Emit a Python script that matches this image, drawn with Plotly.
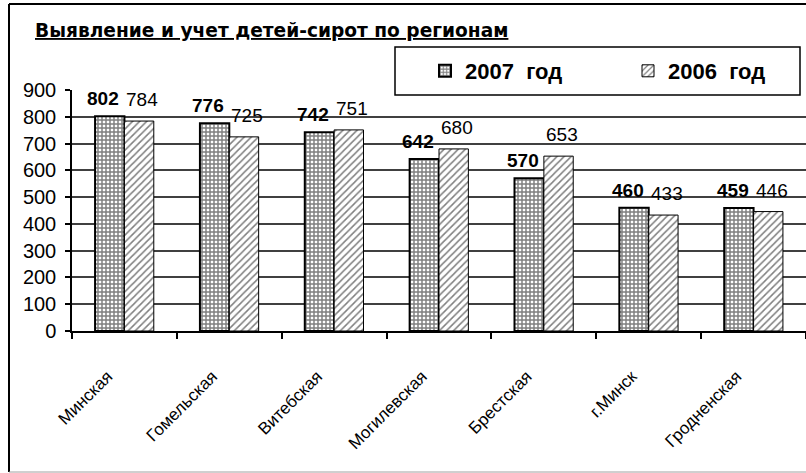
import plotly.graph_objects as go

regions = ["Минская", "Гомельская", "Витебская", "Могилевская", "Брестская", "г.Минск", "Гродненская"]
y2007 = [802, 776, 742, 642, 570, 460, 459]
y2006 = [784, 725, 751, 680, 653, 433, 446]
yticks = [0, 100, 200, 300, 400, 500, 600, 700, 800, 900]

FONT = "Liberation Sans, Arial, sans-serif"
TFONT = "DejaVu Sans, Liberation Sans, sans-serif"
W, H = 806, 473
L, R, T, B = 72, 0, 90, 142
PW, PH = W - L - R, H - T - B


def px(xp):
    return (xp - L) / PW


def py(yp):
    return (H - B - yp) / PH


fig = go.Figure()
fig.add_trace(go.Bar(
    name="2007\u00a0 год", x=regions, y=y2007,
    marker=dict(color="white", line=dict(color="black", width=2),
                pattern=dict(shape="+", fgcolor="black", bgcolor="white", size=4, solidity=0.6)),
    cliponaxis=False,
))
fig.add_trace(go.Bar(
    name="2006\u00a0 год", x=regions, y=y2006,
    marker=dict(color="white", line=dict(color="black", width=1),
                pattern=dict(shape="/", fgcolor="black", bgcolor="white", size=5, solidity=0.3)),
    cliponaxis=False,
))

annotations = [dict(
    text="<u>Выявление и учет детей-сирот по регионам</u>",
    xref="paper", yref="paper", x=px(33), y=py(31),
    xanchor="left", yanchor="middle", showarrow=False,
    font=dict(family=TFONT, size=18.6, color="black", weight="bold"),
)]
for r, v in zip(regions, y2007):
    annotations.append(dict(
        text=str(v), x=r, y=v, xref="x", yref="y", showarrow=False,
        xanchor="center", yanchor="bottom", xshift=-21, yshift=5,
        font=dict(family=FONT, size=19, color="black", weight="bold"),
    ))
for r, v in zip(regions, y2006):
    annotations.append(dict(
        text=str(v), x=r, y=v, xref="x", yref="y", showarrow=False,
        xanchor="center", yanchor="bottom", xshift=18, yshift=9,
        font=dict(family=FONT, size=19, color="black"),
    ))

fig.update_layout(
    width=W, height=H,
    margin=dict(l=L, r=R, t=T, b=B, autoexpand=False),
    paper_bgcolor="white", plot_bgcolor="white",
    barmode="group", bargap=0.44, bargroupgap=0,
    font=dict(family=FONT, color="black"),
    showlegend=True,
    legend=dict(
        orientation="h", x=px(425), y=py(71),
        xanchor="left", yanchor="middle",
        bgcolor="rgba(0,0,0,0)", borderwidth=0,
        font=dict(family=FONT, size=22, color="black", weight="bold"),
        entrywidth=158, entrywidthmode="pixels",
        itemclick=False,
    ),
    annotations=annotations,
    shapes=[
        dict(type="line", xref="paper", yref="paper",
             x0=px(9), x1=px(9), y0=py(4), y1=py(472),
             line=dict(color="black", width=2)),
        dict(type="line", xref="paper", yref="paper",
             x0=px(9), x1=px(810), y0=py(4), y1=py(4),
             line=dict(color="black", width=2)),
        dict(type="line", xref="paper", yref="paper",
             x0=px(9), x1=px(810), y0=py(472), y1=py(472),
             line=dict(color="#a0a0a0", width=1)),
        dict(type="rect", xref="paper", yref="paper",
             x0=px(395), x1=px(800), y0=py(47), y1=py(95),
             line=dict(color="black", width=1.5), fillcolor="white", layer="above"),
    ],
)

fig.update_xaxes(
    type="category", tickangle=-45,
    tickfont=dict(family=FONT, size=17, color="black"),
    showline=True, linecolor="black", linewidth=1.5,
    ticks="outside", tickson="boundaries", ticklen=6, tickcolor="black", tickwidth=1.5,
    ticklabelstandoff=27, ticklabelshift=-17,
    showgrid=False,
)
fig.update_yaxes(
    range=[0, 900], tickvals=yticks, ticktext=[str(v) for v in yticks],
    tickfont=dict(family=FONT, size=20, color="black"),
    showline=True, linecolor="black", linewidth=1.5,
    ticks="outside", ticklen=5, tickcolor="black", tickwidth=1.5,
    ticklabelstandoff=5,
    showgrid=True, gridcolor="#404040", gridwidth=1.5,
    zeroline=False,
)

fig.write_html("out.html", config={"displayModeBar": False},
               post_script="document.body.style.margin='0';")
